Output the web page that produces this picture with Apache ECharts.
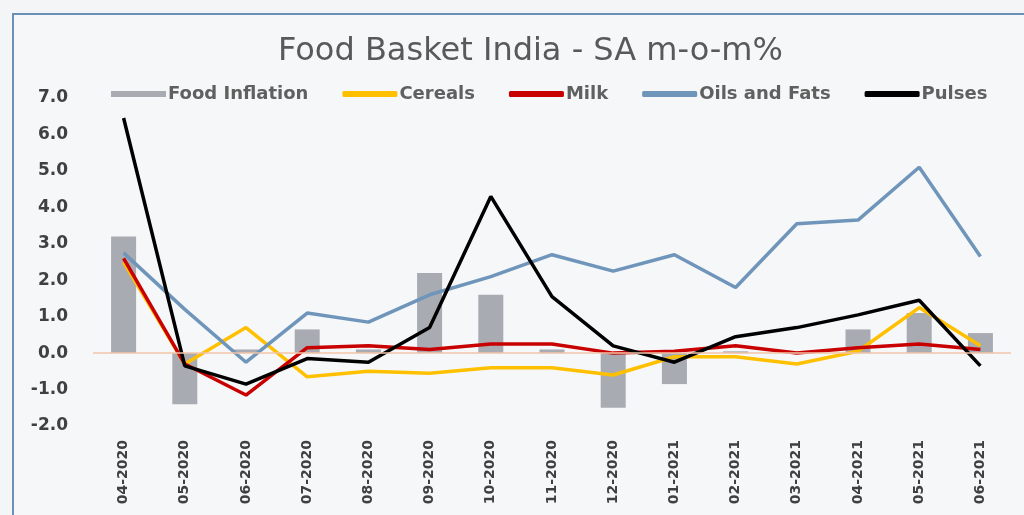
<!DOCTYPE html>
<html>
<head>
<meta charset="utf-8">
<script src="https://cdn.jsdelivr.net/npm/echarts@6/dist/echarts.min.js"></script>
<style>html,body{margin:0;padding:0;background:#f4f5f7;}#c{width:1024px;height:515px;}</style>
</head>
<body>
<div id="c"></div>
<script>
const categories = ['04-2020','05-2020','06-2020','07-2020','08-2020','09-2020','10-2020','11-2020','12-2020','01-2021','02-2021','03-2021','04-2021','05-2021','06-2021'];
const foodInflation = [3.2,-1.4,0.1,0.65,0.1,2.2,1.6,0.1,-1.5,-0.85,0.05,0.05,0.65,1.1,0.55];
const cereals = [2.5,-0.3,0.7,-0.65,-0.5,-0.55,-0.4,-0.4,-0.6,-0.1,-0.1,-0.3,0.05,1.25,0.2];
const milk = [2.6,-0.3,-1.15,0.15,0.2,0.1,0.25,0.25,0.0,0.05,0.2,0.0,0.15,0.25,0.1];
const oilsFats = [2.75,1.2,-0.25,1.1,0.85,1.6,2.1,2.7,2.25,2.7,1.8,3.55,3.65,5.1,2.65];
const pulses = [6.45,-0.35,-0.85,-0.15,-0.25,0.7,4.3,1.55,0.2,-0.25,0.45,0.7,1.05,1.45,-0.35];
const yTicks = {min:-2, max:7, interval:1};

const chart = echarts.init(document.getElementById('c'));
const font = '"DejaVu Sans", Verdana, sans-serif';
const lineW = 3.5;
chart.setOption({
  backgroundColor: '#f4f5f7',
  animation: false,
  graphic: [{
    type: 'rect', left: 12, top: 13, z: -10,
    shape: {width: 1030, height: 520},
    style: {fill: '#f6f7f9', stroke: '#6b8fb6', lineWidth: 2}
  }],
  title: {
    text: 'Food Basket India - SA m-o-m%',
    left: 273, top: 31,
    textStyle: {fontFamily: font, fontSize: 32, fontWeight: 'normal', color: '#595959'}
  },
  legend: {
    left: 106, top: 80,
    itemWidth: 55, itemHeight: 6, itemGap: 34,
    textStyle: {fontFamily: font, fontSize: 18, fontWeight: 'bold', color: '#606060', padding: [0,0,0,-3]},
    data: [
      {name: 'Food Inflation', icon: 'rect'},
      {name: 'Cereals', icon: 'roundRect'},
      {name: 'Milk', icon: 'roundRect'},
      {name: 'Oils and Fats', icon: 'roundRect'},
      {name: 'Pulses', icon: 'roundRect'}
    ]
  },
  grid: {left: 93, right: 13, top: 98, bottom: 89, containLabel: false},
  xAxis: {
    type: 'category', data: categories,
    axisLine: {show: true, onZero: false, lineStyle: {color: 'rgba(0,0,0,0)'}},
    axisTick: {show: false},
    axisLabel: {rotate: 90, margin: 14, fontFamily: font, fontSize: 14, fontWeight: 'bold', color: '#404040'}
  },
  yAxis: {
    type: 'value', min: yTicks.min, max: yTicks.max, interval: yTicks.interval,
    splitLine: {show: false},
    axisLine: {show: false},
    axisTick: {show: false},
    axisLabel: {margin: 25, fontFamily: font, fontSize: 17, fontWeight: 'bold', color: '#404040',
      formatter: v => v.toFixed(1)}
  },
  series: [
    {name: 'Food Inflation', type: 'bar', data: foodInflation, barWidth: 25,
      itemStyle: {color: '#a8abb1'},
      markLine: {silent: true, symbol: 'none', label: {show: false},
        lineStyle: {color: '#f2c4a8', type: 'solid', width: 1.5}, data: [{yAxis: 0}]}},
    {name: 'Cereals', type: 'line', data: cereals, showSymbol: false, symbol: 'none',
      lineStyle: {color: '#ffc000', width: lineW}, itemStyle: {color: '#ffc000'}},
    {name: 'Milk', type: 'line', data: milk, showSymbol: false, symbol: 'none',
      lineStyle: {color: '#c80000', width: lineW}, itemStyle: {color: '#c80000'}},
    {name: 'Oils and Fats', type: 'line', data: oilsFats, showSymbol: false, symbol: 'none',
      lineStyle: {color: '#6f95ba', width: lineW}, itemStyle: {color: '#6f95ba'}},
    {name: 'Pulses', type: 'line', data: pulses, showSymbol: false, symbol: 'none',
      lineStyle: {color: '#000000', width: lineW}, itemStyle: {color: '#000000'}}
  ]
});
</script>
</body>
</html>
